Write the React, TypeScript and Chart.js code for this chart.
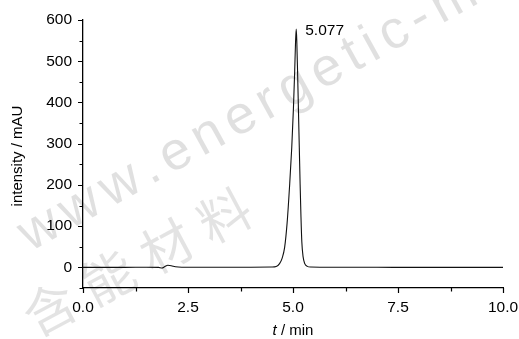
import React, { useEffect, useRef } from "react";
import { Chart, registerables } from "chart.js";

Chart.register(...registerables);

// ---- data ----
const times = [
  0, 0.5, 1.0, 1.5, 1.8, 1.88, 1.95, 2.02, 2.1, 2.2, 2.35, 3.0, 4.0, 4.5,
  4.6, 4.68, 4.74, 4.8, 4.86, 4.92, 4.97, 5.01, 5.04, 5.06, 5.077, 5.09,
  5.11, 5.13, 5.15, 5.17, 5.19, 5.21, 5.24, 5.28, 5.34, 5.42, 6.0, 7.0,
  8.0, 9.0, 10.0,
];
const intensity = [
  0, 0, 0, 0.5, 0, -1.5, 2, 5, 4, 1.5, 0.5, 0.5, 0.5, 0.8,
  2, 9, 22, 48, 108, 200, 290, 385, 475, 545, 578, 550,
  470, 380, 290, 200, 122, 62, 26, 9, 2.5, 0.8, 0.3, 0.2,
  0, 0, 0,
];
const xTickValues = [0, 2.5, 5.0, 7.5, 10.0];
const yTickValues = [0, 100, 200, 300, 400, 500, 600];
const peakTime = 5.077;
const peakHeight = 578;
const peakLabel = "5.077";
const xTitleItalic = "t";
const xTitleRest = " / min";
const yTitle = "intensity / mAU";
const watermarkLatin = "www.energetic-materials.org.cn";
const watermarkCJK = "含能材料";

const FONT = '"Liberation Sans", Arial, Helvetica, sans-serif';

const decorPlugin = {
  id: "decor",
  beforeDraw(chart: any) {
    const ctx = chart.ctx;
    ctx.save();
    ctx.fillStyle = "rgba(0,0,0,0.12)";
    ctx.translate(30, 252);
    ctx.rotate((-29 * Math.PI) / 180);
    ctx.font = `54px ${FONT}`;
    ctx.textBaseline = "alphabetic";
    let lx = 0;
    for (const ch of watermarkLatin) {
      ctx.fillText(ch, lx, 0);
      lx += ctx.measureText(ch).width + 7;
    }
    ctx.restore();

    ctx.save();
    ctx.fillStyle = "rgba(0,0,0,0.11)";
    ctx.translate(36, 338);
    ctx.rotate((-28 * Math.PI) / 180);
    ctx.font = `52px "Noto Sans CJK SC", sans-serif`;
    ctx.textBaseline = "alphabetic";
    let x = 0;
    for (const ch of watermarkCJK) {
      ctx.fillText(ch, x, 0);
      x += 66;
    }
    ctx.restore();
  },
  afterDraw(chart: any) {
    const ctx = chart.ctx;
    const xs = chart.scales.x;
    const ys = chart.scales.y;
    const area = chart.chartArea;
    ctx.save();
    ctx.strokeStyle = "#000";
    ctx.lineWidth = 1.2;
    // x ticks
    const xt = xs.ticks.map((t: any) => t.value);
    ctx.beginPath();
    xt.forEach((v: number, i: number) => {
      const px = Math.round(xs.getPixelForValue(v)) + 0.5;
      ctx.moveTo(px, area.bottom);
      ctx.lineTo(px, area.bottom + 5);
      if (i < xt.length - 1) {
        const mv = (v + xt[i + 1]) / 2;
        const mp = Math.round(xs.getPixelForValue(mv)) + 0.5;
        ctx.moveTo(mp, area.bottom);
        ctx.lineTo(mp, area.bottom + 3.5);
      }
    });
    // y ticks
    const yt = ys.ticks.map((t: any) => t.value);
    yt.forEach((v: number, i: number) => {
      const py = Math.round(ys.getPixelForValue(v)) + 0.5;
      ctx.moveTo(area.left, py);
      ctx.lineTo(area.left - 5, py);
      const nextV = i < yt.length - 1 ? yt[i + 1] : null;
      if (nextV !== null) {
        const mv = (v + nextV) / 2;
        const mp = Math.round(ys.getPixelForValue(mv)) + 0.5;
        ctx.moveTo(area.left, mp);
        ctx.lineTo(area.left - 3.5, mp);
      }
      if (i === 0) {
        const below = v - (yt[1] - yt[0]) / 2;
        if (below >= ys.min) {
          const bp = Math.round(ys.getPixelForValue(below)) + 0.5;
          ctx.moveTo(area.left, bp);
          ctx.lineTo(area.left - 3.5, bp);
        }
      }
    });
    ctx.stroke();

    // titles
    ctx.fillStyle = "#000";
    ctx.font = `15px ${FONT}`;
    ctx.textBaseline = "middle";
    ctx.textAlign = "center";
    ctx.save();
    ctx.translate(18, (area.top + area.bottom) / 2 + 2);
    ctx.rotate(-Math.PI / 2);
    ctx.fillText(yTitle, 0, 0);
    ctx.restore();

    ctx.textAlign = "left";
    ctx.font = `italic 15px ${FONT}`;
    const wI = ctx.measureText(xTitleItalic).width;
    ctx.font = `15px ${FONT}`;
    const wR = ctx.measureText(xTitleRest).width;
    const cx = (area.left + area.right) / 2;
    const startX = cx - (wI + wR) / 2;
    const ty = 331;
    ctx.font = `italic 15px ${FONT}`;
    ctx.fillText(xTitleItalic, startX, ty);
    ctx.font = `15px ${FONT}`;
    ctx.fillText(xTitleRest, startX + wI, ty);

    // peak label
    const px = xs.getPixelForValue(peakTime);
    const py = ys.getPixelForValue(peakHeight);
    ctx.font = `15.5px ${FONT}`;
    ctx.fillText(peakLabel, px + 9, py + 2);
    ctx.restore();
  },
};

export default function App() {
  const ref = useRef<HTMLCanvasElement | null>(null);
  useEffect(() => {
    if (!ref.current) return;
    const chart = new Chart(ref.current, {
      type: "line",
      data: {
        datasets: [
          {
            data: times.map((t, i) => ({ x: t, y: intensity[i] })),
            borderColor: "#111",
            borderWidth: 1.1,
            pointRadius: 0,
            fill: false,
            cubicInterpolationMode: "monotone",
          },
        ],
      },
      options: {
        animation: false,
        responsive: false,
        devicePixelRatio: 1,
        layout: { padding: { top: 20, right: 16, left: 0, bottom: 0 } },
        plugins: {
          legend: { display: false },
          tooltip: { enabled: false },
          title: { display: false },
        },
        scales: {
          x: {
            type: "linear",
            min: 0,
            max: 10,
            afterBuildTicks: (s: any) => {
              s.ticks = xTickValues.map((v) => ({ value: v }));
            },
            afterFit: (s: any) => {
              s.height = 51;
              s.paddingLeft = 0;
              s.paddingRight = 0;
            },
            ticks: {
              callback: (v: any) => Number(v).toFixed(1),
              font: { family: FONT, size: 15.5 },
              color: "#000",
              padding: 10,
              maxRotation: 0,
              autoSkip: false,
            },
            grid: { display: false, drawTicks: false },
            border: { display: true, color: "#000", width: 1.3 },
          },
          y: {
            type: "linear",
            min: -50,
            max: 600,
            afterBuildTicks: (s: any) => {
              s.ticks = yTickValues.map((v) => ({ value: v }));
            },
            afterFit: (s: any) => {
              s.width = 83;
              s.paddingTop = 0;
              s.paddingBottom = 0;
            },
            ticks: {
              callback: (v: any) => String(v),
              font: { family: FONT, size: 15.5 },
              color: "#000",
              padding: 11,
              autoSkip: false,
            },
            grid: { display: false, drawTicks: false },
            border: { display: true, color: "#000", width: 1.3 },
          },
        },
      } as any,
      plugins: [decorPlugin],
    });
    return () => chart.destroy();
  }, []);
  return (
    <div style={{ position: "fixed", left: 0, top: 0, width: 519, height: 339, background: "#fff" }}>
      <canvas ref={ref} width={519} height={339} style={{ width: 519, height: 339 }} />
    </div>
  );
}
